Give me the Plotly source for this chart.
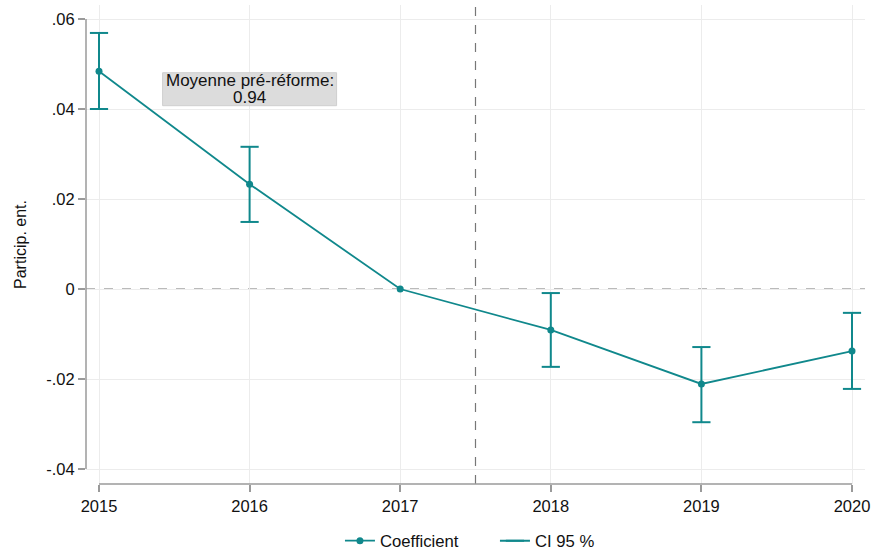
import plotly.graph_objects as go

years = [2015, 2016, 2017, 2018, 2019, 2020]
coef = [0.0484, 0.0233, 0.0, -0.0091, -0.0211, -0.0138]
ci_low = [0.0400, 0.0149, 0.0, -0.0173, -0.0296, -0.0222]
ci_high = [0.0569, 0.0316, 0.0, -0.0009, -0.0129, -0.0053]
ytick_vals = [-0.04, -0.02, 0.0, 0.02, 0.04, 0.06]
ytick_text = ["-.04", "-.02", "0", ".02", ".04", ".06"]
reform_x = 2017.5
annot_lines = ["Moyenne pré-réforme:", "0.94"]
annot_x = 2016
annot_y = 0.0444

TEAL = "#10888c"
GRAY = "#9a9a9a"
FONT = "Arial"

fig = go.Figure()

# CI: vertical segments (skip the reference year, which has no CI)
ci_x, ci_y = [], []
for yr, lo, hi in zip(years, ci_low, ci_high):
    if hi - lo > 0:
        ci_x += [yr, yr, None]
        ci_y += [lo, hi, None]

fig.add_trace(go.Scatter(
    x=years, y=coef, mode="lines+markers", name="Coefficient",
    line=dict(color=TEAL, width=1.8),
    marker=dict(symbol="circle", size=7, color=TEAL),
))
fig.add_trace(go.Scatter(
    x=ci_x, y=ci_y, mode="lines+markers", name="CI 95 %",
    line=dict(color=TEAL, width=2),
    marker=dict(symbol="line-ew", size=13, line=dict(color=TEAL, width=2), color=TEAL),
))

# reference lines
fig.add_shape(type="line", xref="paper", yref="y", x0=0, x1=1, y0=0, y1=0,
              line=dict(color="#777777", width=1.2, dash="dash"), layer="below")
fig.add_shape(type="line", xref="x", yref="paper", x0=reform_x, x1=reform_x, y0=0, y1=1,
              line=dict(color="#777777", width=1.2, dash="dash"), layer="below")

# Stata-style axis lines spanning only the tick range
fig.add_shape(type="line", xref="paper", yref="y", x0=0, x1=0,
              y0=ytick_vals[0], y1=ytick_vals[-1], line=dict(color=GRAY, width=1.5))
fig.add_shape(type="line", xref="x", yref="paper", x0=years[0], x1=years[-1],
              y0=0, y1=0, line=dict(color=GRAY, width=1.5))

# annotation box (tight line spacing like the original)
fig.add_shape(type="rect", xref="x", yref="y",
              xsizemode="pixel", xanchor=annot_x, x0=-87, x1=87,
              ysizemode="pixel", yanchor=annot_y, y0=-16.5, y1=16.5,
              fillcolor="#dcdcdc", line=dict(color="#cfcfcf", width=1), layer="above")
fig.add_annotation(x=annot_x, y=annot_y, xref="x", yref="y", text=annot_lines[0],
                   showarrow=False, yshift=8.5, font=dict(family=FONT, size=17, color="#111"))
fig.add_annotation(x=annot_x, y=annot_y, xref="x", yref="y", text=annot_lines[1],
                   showarrow=False, yshift=-8.5, font=dict(family=FONT, size=17, color="#111"))

fig.update_layout(
    width=871, height=551,
    margin=dict(l=86, r=6, t=5, b=67, autoexpand=False),
    paper_bgcolor="white", plot_bgcolor="white",
    font=dict(family=FONT, size=16.5, color="#111"),
    showlegend=True,
    legend=dict(orientation="h", x=0.326, xanchor="left", y=-0.082, yanchor="top",
                font=dict(family=FONT, size=16.7), entrywidth=110, entrywidthmode="pixels"),
)
fig.update_xaxes(
    range=[2014.9137, 2020.0863], tickvals=years, ticktext=[str(y) for y in years],
    showgrid=True, gridcolor="#ececec", gridwidth=1, zeroline=False, showline=False,
    ticks="outside", ticklen=7, tickcolor=GRAY, tickwidth=1.5, automargin=False,
    tickfont=dict(family=FONT, size=16.5),
)
fig.update_yaxes(
    range=[-0.04333, 0.06311], tickvals=ytick_vals, ticktext=ytick_text,
    showgrid=True, gridcolor="#ececec", gridwidth=1, zeroline=False, showline=False,
    ticks="outside", ticklen=7, tickcolor=GRAY, tickwidth=1.5, automargin=False,
    tickfont=dict(family=FONT, size=16.5),
    title=dict(text="Particip. ent.", font=dict(family=FONT, size=16)),
)

fig.write_html("out.html", config={"displayModeBar": False},
               post_script="document.body.style.margin='0';document.body.style.overflow='hidden';")
